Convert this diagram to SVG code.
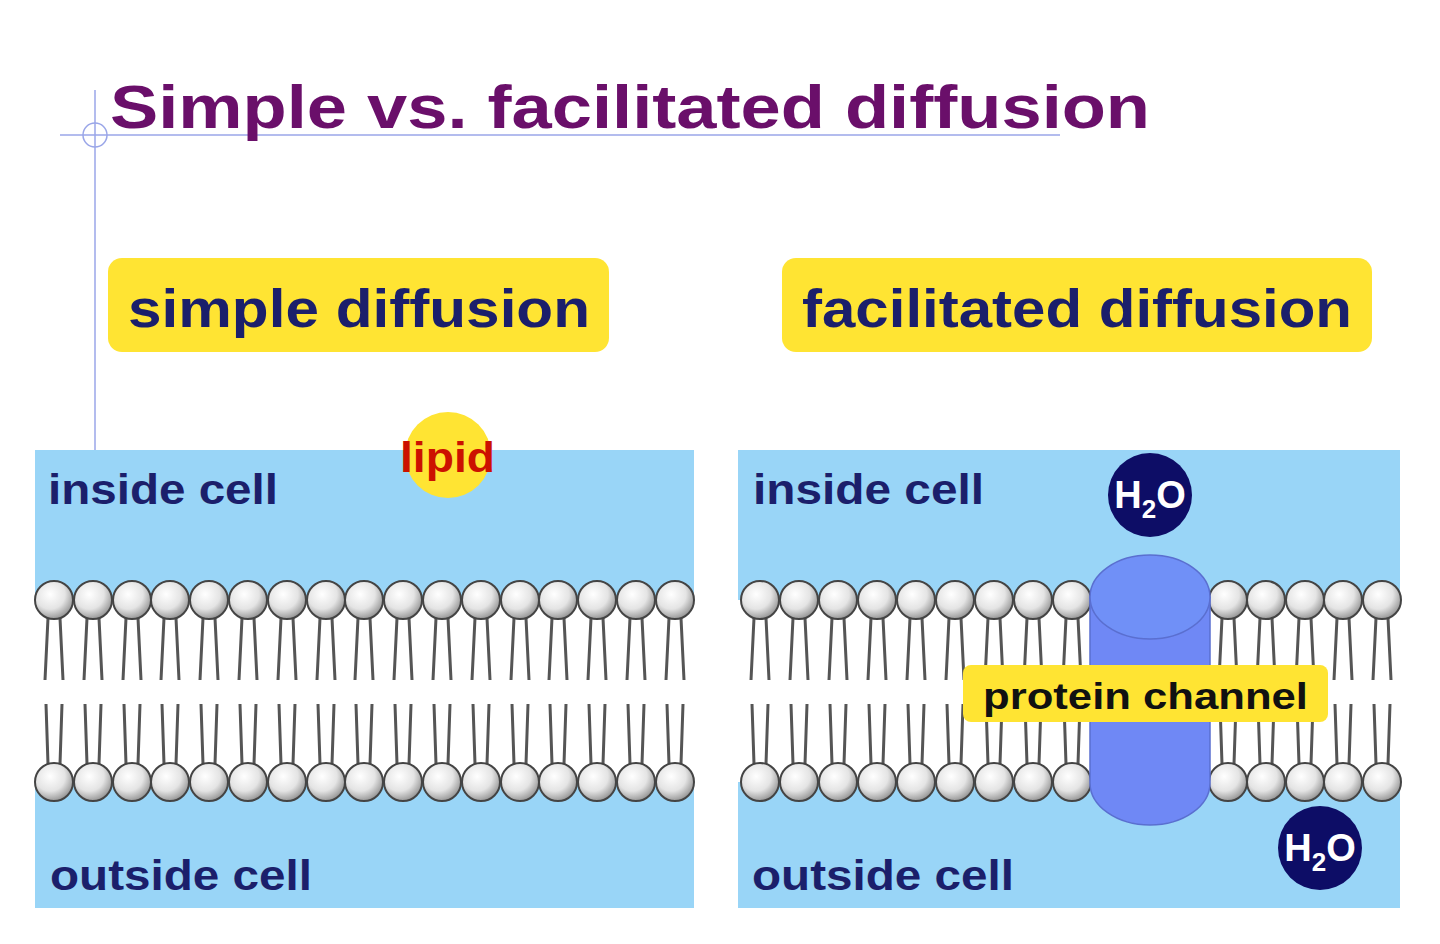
<svg xmlns="http://www.w3.org/2000/svg" xmlns:xlink="http://www.w3.org/1999/xlink" width="1440" height="944" viewBox="0 0 1440 944">
<style>
text{font-family:"Liberation Sans",Arial,sans-serif;font-weight:bold}
.lbl{fill:#1b1f6b;font-size:42px}
.hd{fill:#1b1f6b;font-size:54px}
.tail{stroke:#555;stroke-width:3;fill:none}
.box{fill:#ffe433}
</style>
<defs>
<radialGradient id="hg" cx="0.4" cy="0.35" r="0.65">
<stop offset="0" stop-color="#ffffff"/><stop offset="0.6" stop-color="#e4e4e4"/><stop offset="1" stop-color="#9a9a9a"/>
</radialGradient>
<g id="lip">
<path class="tail" d="M-6,18 L-9,80 M6,18 L9,80"/>
<path class="tail" d="M-6,164 L-8,104 M6,164 L8,104"/>
<circle cx="0" cy="0" r="19" fill="url(#hg)" stroke="#444" stroke-width="2"/>
<circle cx="0" cy="182" r="19" fill="url(#hg)" stroke="#444" stroke-width="2"/>
</g>
</defs>
<rect width="1440" height="944" fill="#fff"/>
<g id="guides" stroke="#9aa6e8" stroke-width="1.5" fill="none">
<line x1="60" y1="135" x2="1060" y2="135"/>
<line x1="95" y1="90" x2="95" y2="450"/>
<circle cx="95" cy="135" r="12"/>
</g>
<text x="110" y="128" font-size="62" fill="#6a0f6a" textLength="1040" lengthAdjust="spacingAndGlyphs">Simple vs. facilitated diffusion</text>
<g id="label-simple"><rect class="box" x="108" y="258" width="501" height="94" rx="14"/><text class="hd" x="128" y="327" textLength="462" lengthAdjust="spacingAndGlyphs">simple diffusion</text></g>
<g id="label-facilitated"><rect class="box" x="782" y="258" width="590" height="94" rx="14"/><text class="hd" x="802" y="327" textLength="550" lengthAdjust="spacingAndGlyphs">facilitated diffusion</text></g>
<g id="panel-left">
<rect x="35" y="450" width="659" height="458" fill="#99d5f7"/>
<rect x="35" y="600" width="659" height="182" fill="#fff"/>
<g>
<use xlink:href="#lip" x="54" y="600"/><use xlink:href="#lip" x="93" y="600"/><use xlink:href="#lip" x="132" y="600"/><use xlink:href="#lip" x="170" y="600"/><use xlink:href="#lip" x="209" y="600"/><use xlink:href="#lip" x="248" y="600"/><use xlink:href="#lip" x="287" y="600"/><use xlink:href="#lip" x="326" y="600"/><use xlink:href="#lip" x="364" y="600"/><use xlink:href="#lip" x="403" y="600"/><use xlink:href="#lip" x="442" y="600"/><use xlink:href="#lip" x="481" y="600"/><use xlink:href="#lip" x="520" y="600"/><use xlink:href="#lip" x="558" y="600"/><use xlink:href="#lip" x="597" y="600"/><use xlink:href="#lip" x="636" y="600"/><use xlink:href="#lip" x="675" y="600"/>
</g>
<text class="lbl" x="48" y="504" textLength="230" lengthAdjust="spacingAndGlyphs">inside cell</text>
<text class="lbl" x="50" y="890" textLength="262" lengthAdjust="spacingAndGlyphs">outside cell</text>
</g>
<g id="lipid"><circle cx="448" cy="455" r="43" fill="#ffe433"/><text x="400" y="472" font-size="42" fill="#cc1100" textLength="95" lengthAdjust="spacingAndGlyphs">lipid</text></g>
<g id="panel-right">
<rect x="738" y="450" width="662" height="458" fill="#99d5f7"/>
<rect x="738" y="600" width="662" height="182" fill="#fff"/>
<use xlink:href="#lip" x="760" y="600"/><use xlink:href="#lip" x="799" y="600"/><use xlink:href="#lip" x="838" y="600"/><use xlink:href="#lip" x="877" y="600"/><use xlink:href="#lip" x="916" y="600"/><use xlink:href="#lip" x="955" y="600"/><use xlink:href="#lip" x="994" y="600"/><use xlink:href="#lip" x="1033" y="600"/><use xlink:href="#lip" x="1072" y="600"/>
<use xlink:href="#lip" x="1228" y="600"/><use xlink:href="#lip" x="1266" y="600"/><use xlink:href="#lip" x="1305" y="600"/><use xlink:href="#lip" x="1343" y="600"/><use xlink:href="#lip" x="1382" y="600"/>
<text class="lbl" x="753" y="504" textLength="231" lengthAdjust="spacingAndGlyphs">inside cell</text>
<text class="lbl" x="752" y="890" textLength="262" lengthAdjust="spacingAndGlyphs">outside cell</text>
</g>
<g id="channel">
<path d="M1090,597 L1090,783 A60,42 0 0 0 1210,783 L1210,597 Z" fill="#6f88f5" stroke="#5a6fd0" stroke-width="1.5"/>
<ellipse cx="1150" cy="597" rx="60" ry="42" fill="#7090f7" stroke="#5a6fd0" stroke-width="1.5"/>
</g>
<g id="label-channel"><rect class="box" x="963" y="665" width="365" height="57" rx="8"/><text x="983" y="709" font-size="37" fill="#111" textLength="325" lengthAdjust="spacingAndGlyphs">protein channel</text></g>
<g id="h2o-top"><circle cx="1150" cy="495" r="42" fill="#0d0d66"/><text x="1150" y="508" font-size="38" fill="#fff" text-anchor="middle">H<tspan font-size="26" dy="10">2</tspan><tspan dy="-10">O</tspan></text></g>
<g id="h2o-bottom"><circle cx="1320" cy="848" r="42" fill="#0d0d66"/><text x="1320" y="861" font-size="38" fill="#fff" text-anchor="middle">H<tspan font-size="26" dy="10">2</tspan><tspan dy="-10">O</tspan></text></g>
</svg>
